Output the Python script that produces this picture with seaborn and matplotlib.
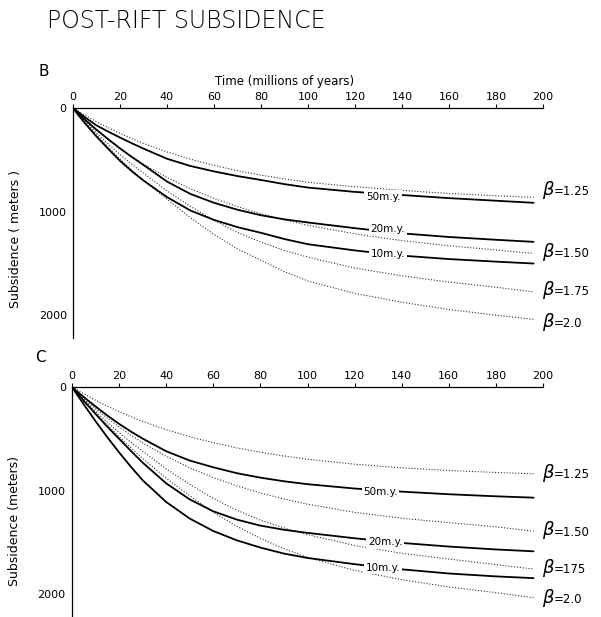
import matplotlib
matplotlib.use("Agg")
import matplotlib.pyplot as plt
import pandas as pd
import seaborn as sns

# Time after the onset of rifting (millions of years)
time_my = [0, 2.5, 5, 10, 15, 20, 25, 30, 40, 50, 60, 70, 80, 90, 100, 120, 140, 160, 180, 196]

# Panel B -- instantaneous stretching (dotted), by stretching factor beta
b_beta125 = [0, 34, 68, 132, 190, 245, 295, 342, 424, 494, 554, 605, 648, 685, 717, 760, 795, 825, 847, 862]
b_beta150 = [0, 54, 108, 210, 302, 390, 470, 543, 670, 780, 872, 952, 1020, 1080, 1132, 1215, 1280, 1330, 1370, 1404]
b_beta175 = [0, 62, 122, 240, 348, 450, 543, 630, 800, 950, 1085, 1200, 1295, 1375, 1440, 1545, 1620, 1680, 1730, 1775]
b_beta200 = [0, 67, 132, 260, 378, 490, 598, 700, 880, 1060, 1220, 1360, 1470, 1580, 1670, 1790, 1875, 1945, 2000, 2040]
# Panel B -- finite rifting durations (solid)
b_rift50 = [0, 45, 88, 168, 228, 285, 340, 392, 490, 560, 612, 657, 695, 735, 768, 810, 840, 870, 895, 915]
b_rift20 = [0, 58, 112, 210, 302, 390, 472, 550, 710, 830, 915, 982, 1035, 1075, 1105, 1160, 1210, 1245, 1272, 1292]
b_rift10 = [0, 75, 145, 275, 395, 510, 610, 700, 860, 990, 1080, 1150, 1205, 1265, 1315, 1375, 1425, 1458, 1483, 1501]

# Panel C -- instantaneous stretching (dotted)
c_beta125 = [0, 33, 65, 128, 185, 238, 287, 332, 412, 480, 538, 588, 630, 666, 697, 745, 780, 806, 825, 838]
c_beta150 = [0, 54, 106, 209, 300, 386, 465, 539, 669, 780, 874, 954, 1023, 1081, 1131, 1210, 1267, 1309, 1350, 1392]
c_beta175 = [0, 60, 120, 235, 340, 440, 533, 620, 790, 940, 1075, 1190, 1285, 1360, 1425, 1530, 1605, 1660, 1715, 1757]
c_beta200 = [0, 64, 127, 250, 367, 480, 588, 690, 880, 1050, 1210, 1345, 1460, 1560, 1645, 1770, 1860, 1930, 1985, 2033]
# Panel C -- finite rifting durations (solid)
c_rift50 = [0, 50, 97, 188, 275, 356, 430, 498, 620, 710, 775, 832, 875, 910, 938, 980, 1010, 1035, 1055, 1068]
c_rift20 = [0, 68, 133, 260, 383, 500, 617, 730, 930, 1085, 1200, 1280, 1338, 1378, 1408, 1460, 1505, 1540, 1568, 1586]
c_rift10 = [0, 85, 168, 330, 485, 631, 770, 900, 1110, 1270, 1390, 1480, 1550, 1608, 1650, 1710, 1760, 1800, 1828, 1845]

beta_names = ["1.25", "1.50", "1.75", "2.0"]
beta_names_c = ["1.25", "1.50", "175", "2.0"]
rift_names = ["50m.y.", "20m.y.", "10m.y."]
x_ticks = [0, 20, 40, 60, 80, 100, 120, 140, 160, 180, 200]
y_ticks = [0, 1000, 2000]

sns.set_style("white")
plt.rcParams["font.family"] = ["DejaVu Sans"]
plt.rcParams["text.color"] = "black"
plt.rcParams["axes.labelcolor"] = "black"
plt.rcParams["xtick.color"] = "black"
plt.rcParams["ytick.color"] = "black"

W, H = 601, 617
fig = plt.figure(figsize=(W / 100, H / 100), dpi=100)


def frame(beta_sets, rift_sets):
    rows = []
    for name, vals in zip(beta_names, beta_sets):
        rows += [dict(t=t, s=v, curve="b" + name, kind="beta") for t, v in zip(time_my, vals)]
    for name, vals in zip(rift_names, rift_sets):
        rows += [dict(t=t, s=v, curve="r" + name, kind="rift") for t, v in zip(time_my, vals)]
    return pd.DataFrame(rows)


def panel(rect, df, rift_labels, beta_labels, beta_text, ylabel, ylab_y):
    ax = fig.add_axes(rect)
    for curve, sub in df.groupby("curve", sort=False):
        if sub["kind"].iloc[0] == "beta":
            sns.lineplot(data=sub, x="t", y="s", ax=ax, color="#333333", lw=0.8,
                         linestyle=(0, (1, 1.6)), estimator=None, legend=False)
        else:
            sns.lineplot(data=sub, x="t", y="s", ax=ax, color="black", lw=1.3,
                         estimator=None, legend=False)
    ax.set_xlim(0, 200)
    ax.set_ylim(2220, 0)
    ax.xaxis.tick_top()
    ax.set_xticks(x_ticks)
    ax.set_yticks(y_ticks)
    ax.tick_params(axis="both", direction="out", length=3, width=0.8,
                   labelsize=8, pad=1.5)
    for side in ("right", "bottom"):
        ax.spines[side].set_visible(False)
    for side in ("top", "left"):
        ax.spines[side].set_linewidth(0.9)
        ax.spines[side].set_color("black")
    ax.set_xlabel("")
    ax.set_ylabel(ylabel, fontsize=9)
    ax.yaxis.set_label_coords(-0.108, ylab_y)
    for text, (x, y) in zip(rift_names, rift_labels):
        ax.text(x, y, text, fontsize=7.5, ha="center", va="center", zorder=5,
                bbox=dict(facecolor="white", edgecolor="none", pad=1.2))
    for text, y in zip(beta_text, beta_labels):
        ax.text(199.5, y, r"$\beta$", fontsize=13, ha="left", va="center", clip_on=False)
        ax.text(204.5, y + 15, "=" + text, fontsize=8.5, ha="left", va="center", clip_on=False)
    return ax


df_b = frame([b_beta125, b_beta150, b_beta175, b_beta200], [b_rift50, b_rift20, b_rift10])
df_c = frame([c_beta125, c_beta150, c_beta175, c_beta200], [c_rift50, c_rift20, c_rift10])

ax_b = panel([73 / W, 1 - 338 / H, 470 / W, 230 / H], df_b,
             [(132, 858), (134, 1172), (134, 1405)],
             [795, 1390, 1760, 2065], beta_names,
             "Subsidence ( meters )", 0.43)
ax_c = panel([72 / W, 0.0, 471 / W, 230 / H], df_c,
             [(131, 1010), (133, 1495), (132, 1745)],
             [832, 1385, 1745, 2036], beta_names_c,
             "Subsidence (meters)", 0.417)

fig.text(47 / W, 1 - 21 / H, "POST-RIFT SUBSIDENCE", fontsize=17, fontweight="light",
         ha="left", va="center")
fig.text(38 / W, 1 - 71 / H, "B", fontsize=11, ha="left", va="center")
fig.text(35 / W, 1 - 358 / H, "C", fontsize=11, ha="left", va="center")
fig.text(285 / W, 1 - 82 / H, "Time (millions of years)", fontsize=8.5, ha="center", va="center")

fig.savefig("out.png", dpi=100)
